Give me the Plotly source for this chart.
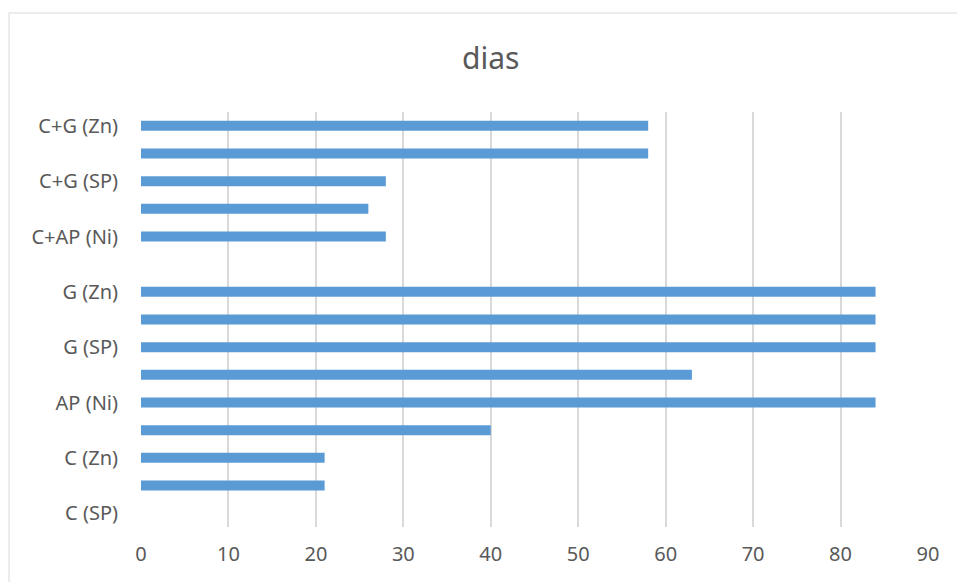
import plotly.graph_objects as go

# Categories listed bottom to top, as plotted on the category axis
categories = [
    "C (SP)", "C (Ni)", "C (Zn)",
    "AP (SP)", "AP (Ni)", "AP (Zn)",
    "G (SP)", "G (Ni)", "G (Zn)",
    "C+AP (SP)", "C+AP (Ni)", "C+AP (Zn)",
    "C+G (SP)", "C+G (Ni)", "C+G (Zn)",
]
dias = [None, 21, 21, 40, 84, 63, 84, 84, 84, None, 28, 26, 28, 58, 58]

# Only every other category name is printed on the axis
labelled = categories[::2]

x_ticks = list(range(0, 91, 10))

text_color = "#595959"
grid_color = "#d9d9d9"

fig = go.Figure(
    go.Bar(
        x=dias,
        y=categories,
        orientation="h",
        marker=dict(color="#5B9BD5", line=dict(width=0)),
        hoverinfo="x+y",
    )
)

fig.update_layout(
    width=957,
    height=582,
    margin=dict(l=141, r=29, t=112, b=55),
    paper_bgcolor="white",
    plot_bgcolor="white",
    bargap=0.64,
    showlegend=False,
    font=dict(family="Noto Sans", color=text_color, size=20),
    xaxis=dict(
        range=[0, 90],
        tickvals=x_ticks,
        showgrid=True,
        gridcolor=grid_color,
        gridwidth=2,
        zeroline=False,
        showline=False,
        ticks="",
        ticklabelstandoff=13,
        tickfont=dict(size=20, color=text_color),
        fixedrange=True,
    ),
    yaxis=dict(
        type="category",
        categoryorder="array",
        categoryarray=categories,
        tickvals=labelled,
        ticktext=labelled,
        showgrid=False,
        zeroline=False,
        showline=False,
        ticks="",
        ticklabelstandoff=22,
        tickfont=dict(size=20, color=text_color),
        range=[-0.5, len(categories) - 0.5],
        fixedrange=True,
    ),
    annotations=[
        dict(
            text="dias",
            xref="paper",
            yref="paper",
            x=0.4435,
            y=1.1325,
            xanchor="center",
            yanchor="middle",
            showarrow=False,
            font=dict(size=30, color=text_color, family="Noto Sans"),
        )
    ],
    shapes=[
        # chart-area frame (left and top edges)
        dict(type="line", xref="paper", yref="paper",
             x0=-0.1677, x1=-0.1677, y0=1.2386, y1=-0.14,
             line=dict(color=grid_color, width=1)),
        dict(type="line", xref="paper", yref="paper",
             x0=-0.1677, x1=1.04, y0=1.2386, y1=1.2386,
             line=dict(color=grid_color, width=1)),
    ],
)

fig.write_html("out.html")
